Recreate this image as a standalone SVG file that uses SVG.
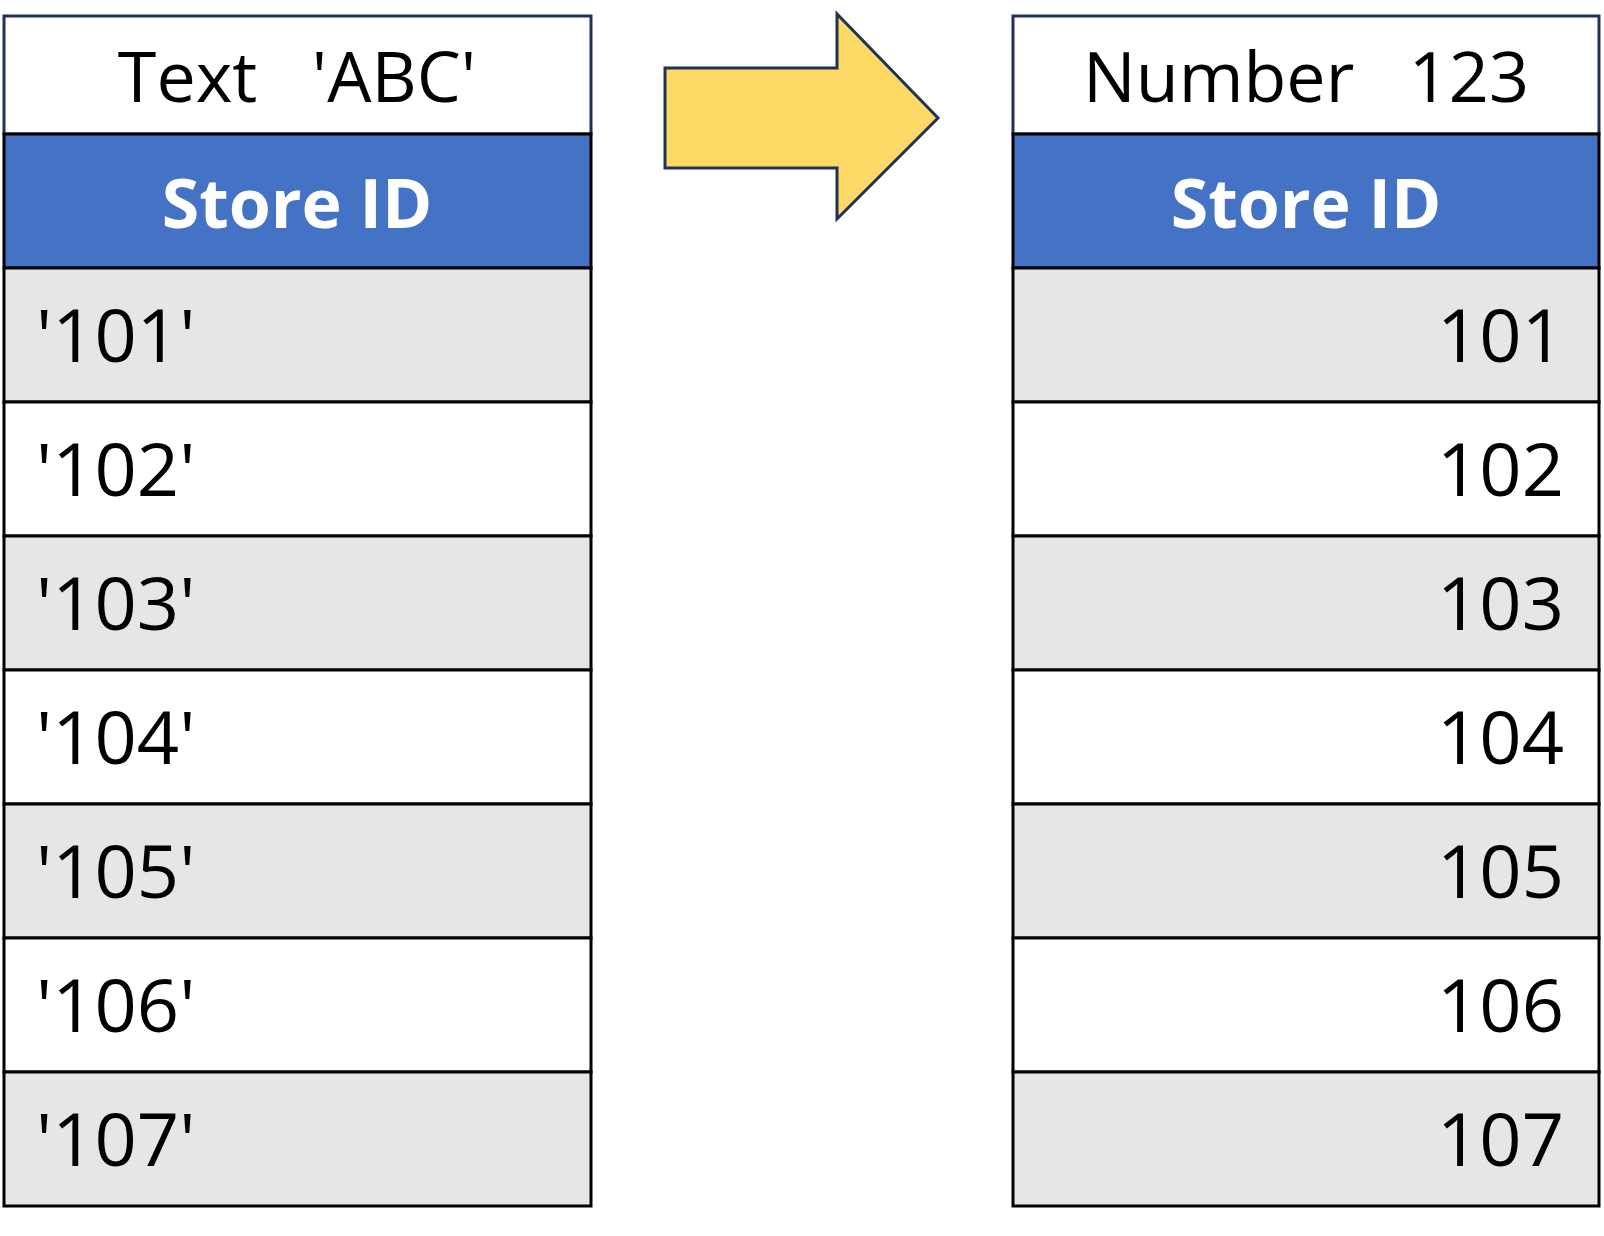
<svg xmlns="http://www.w3.org/2000/svg" width="1604" height="1236" viewBox="0 0 1604 1236">
<style>
.t{font-family:"Open Sans","Noto Sans",sans-serif;fill:#000}
.h{font-family:"Open Sans","Noto Sans",sans-serif;font-weight:bold;fill:#fff;font-size:68px}
.g{fill:#e7e6e6;stroke:#000;stroke-width:3}
.w{fill:#fff;stroke:#000;stroke-width:3}
.b{fill:#4472c4;stroke:#000;stroke-width:3}
.top{fill:#fff;stroke:#1f3358;stroke-width:3}
.c{font-size:70px}
.d{font-size:74px}
</style>
<g id="left">
<rect class="top" x="4" y="16" width="587" height="118"/>
<text class="t c" x="297" y="102" text-anchor="middle" xml:space="preserve">Text   'ABC'</text>
<rect class="b" x="4" y="134" width="587" height="134"/>
<text class="h" x="297" y="228" text-anchor="middle">Store ID</text>
<rect class="g" x="4" y="268" width="587" height="134"/><text class="t d" x="36" y="362">'101'</text>
<rect class="w" x="4" y="402" width="587" height="134"/><text class="t d" x="36" y="496">'102'</text>
<rect class="g" x="4" y="536" width="587" height="134"/><text class="t d" x="36" y="630">'103'</text>
<rect class="w" x="4" y="670" width="587" height="134"/><text class="t d" x="36" y="764">'104'</text>
<rect class="g" x="4" y="804" width="587" height="134"/><text class="t d" x="36" y="898">'105'</text>
<rect class="w" x="4" y="938" width="587" height="134"/><text class="t d" x="36" y="1032">'106'</text>
<rect class="g" x="4" y="1072" width="587" height="134"/><text class="t d" x="36" y="1166">'107'</text>
</g>
<g id="arrow">
<polygon points="665,68 837,68 837,14 938,118 837,219 837,168 665,168" fill="#ffd966" stroke="#1f3358" stroke-width="3"/>
</g>
<g id="right">
<rect class="top" x="1013" y="16" width="586" height="118"/>
<text class="t c" x="1306" y="102" text-anchor="middle" xml:space="preserve">Number   123</text>
<rect class="b" x="1013" y="134" width="586" height="134"/>
<text class="h" x="1306" y="228" text-anchor="middle">Store ID</text>
<rect class="g" x="1013" y="268" width="586" height="134"/><text class="t d" x="1564" y="362" text-anchor="end">101</text>
<rect class="w" x="1013" y="402" width="586" height="134"/><text class="t d" x="1564" y="496" text-anchor="end">102</text>
<rect class="g" x="1013" y="536" width="586" height="134"/><text class="t d" x="1564" y="630" text-anchor="end">103</text>
<rect class="w" x="1013" y="670" width="586" height="134"/><text class="t d" x="1564" y="764" text-anchor="end">104</text>
<rect class="g" x="1013" y="804" width="586" height="134"/><text class="t d" x="1564" y="898" text-anchor="end">105</text>
<rect class="w" x="1013" y="938" width="586" height="134"/><text class="t d" x="1564" y="1032" text-anchor="end">106</text>
<rect class="g" x="1013" y="1072" width="586" height="134"/><text class="t d" x="1564" y="1166" text-anchor="end">107</text>
</g>
</svg>
